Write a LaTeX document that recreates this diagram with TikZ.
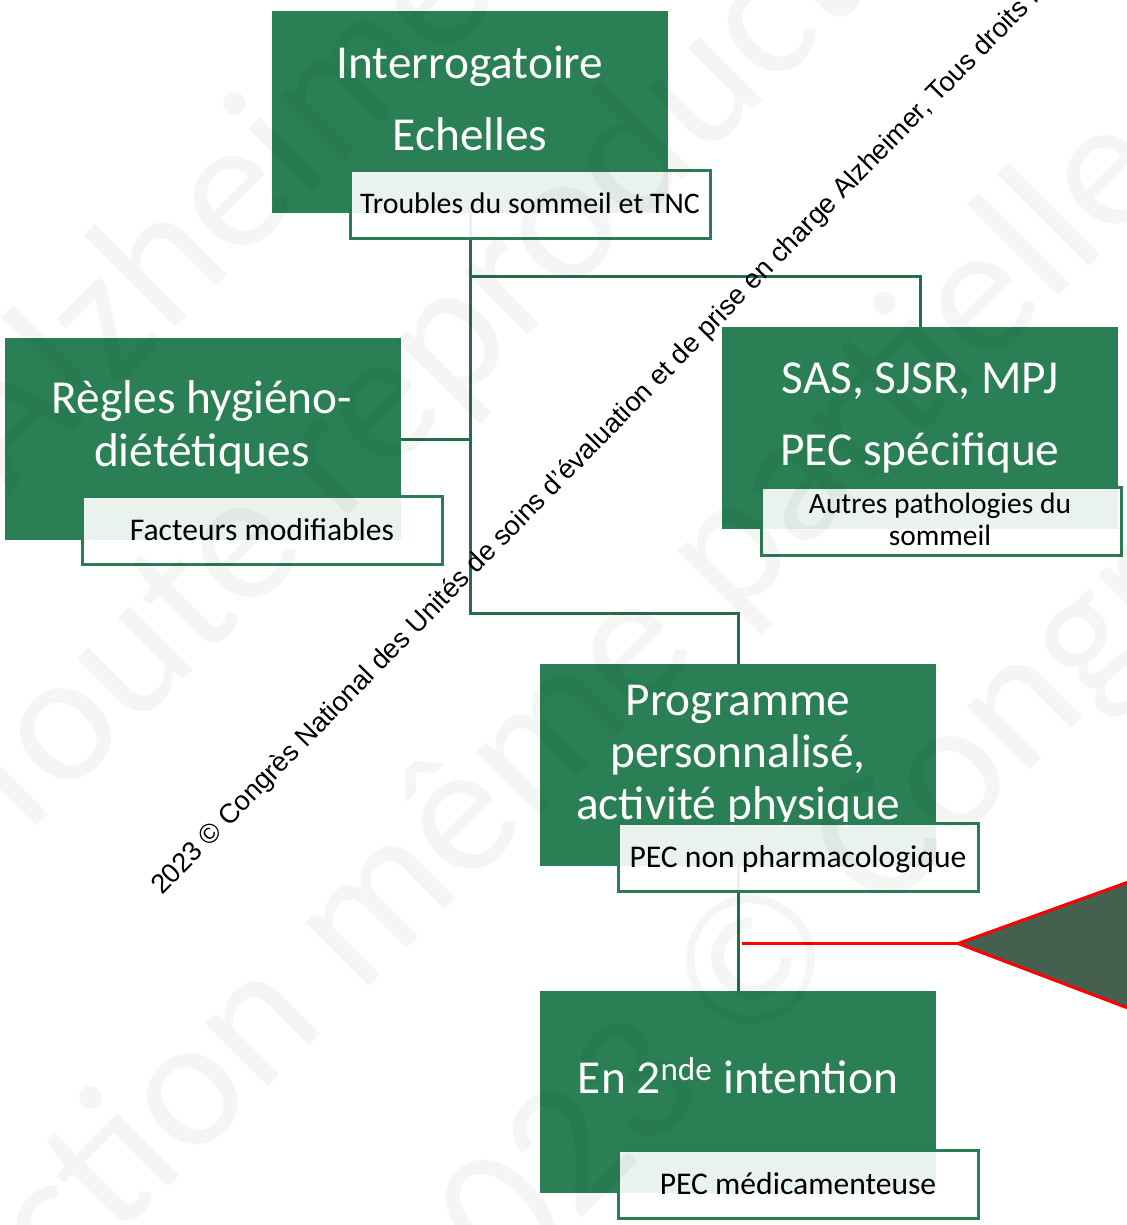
\documentclass[tikz,border=0pt]{standalone}
\usepackage{fontspec}
\setmainfont{Carlito}
\newfontfamily\arialf{Liberation Sans}
\definecolor{boxgreen}{RGB}{42,127,84}
\definecolor{conngreen}{RGB}{36,110,72}
\definecolor{labgreen}{RGB}{44,124,83}
\definecolor{trifill}{RGB}{70,96,80}
\begin{document}
\begin{tikzpicture}[x=0.75pt,y=-0.75pt,
  gbox/.style={fill=boxgreen,draw=none,inner sep=0pt,outer sep=0pt,anchor=north west,minimum width=297pt,minimum height=151.5pt},
  labbox/.style={draw=labgreen,line width=2.25pt,fill=white,fill opacity=0.9,draw opacity=1,inner sep=0pt,outer sep=0pt,anchor=north west,minimum width=270pt,minimum height=51pt},
  btxt/.style={text=white,anchor=base,inner sep=0pt,font=\fontsize{35.5}{40}\selectfont},
  ltxt/.style={text=black,anchor=base,inner sep=0pt,font=\fontsize{23.7}{28}\selectfont},
  ltxts/.style={text=black,anchor=base,inner sep=0pt,font=\fontsize{22.1}{26}\selectfont},
  conn/.style={draw=conngreen,line width=2.25pt},
  redline/.style={draw=red,line width=2.25pt},
  wmk/.style={inner sep=0pt,rotate=45,text=black,text opacity=0.038,font=\fontsize{140}{150}\selectfont},
  copyr/.style={inner sep=0pt,rotate=45.6,anchor=base west,text=black,font=\arialf\fontsize{20.4}{24}\selectfont}]
\useasboundingbox (0,0) rectangle (1127,1225);
\fill[white] (0,0) rectangle (1127,1225);
\begin{scope}
\clip (0,0) rectangle (1127,1225);
% green boxes
\node[gbox] (b1) at (272,11) {};
\node[gbox] (b2) at (5,338) {};
\node[gbox] (b3) at (722,327) {};
\node[gbox] (b4) at (540,664) {};
\node[gbox] (b5) at (540,991) {};
% box texts
\node[btxt] (t1a) at (470,78) {Interrogatoire};
\node[btxt] (t1b) at (470,150) {Echelles};
\node[btxt] (t2a) at (202,413) {Règles hygiéno-};
\node[btxt] (t2b) at (202,466) {diététiques};
\node[btxt] (t3a) at (920,393) {SAS, SJSR, MPJ};
\node[btxt] (t3b) at (920,465) {PEC spécifique};
\node[btxt] (t4a) at (738,715) {Programme};
\node[btxt] (t4b) at (738,767) {personnalisé,};
\node[btxt] (t4c) at (738,819) {activité physique};
\node[btxt] (t5) at (738,1093) {En 2\textsuperscript{nde} intention};
% connectors
\coordinate (k3) at (470,276);
\coordinate (k4) at (470,613);
\draw[conn] (b1.south) -- (k4) -| (b4.north);
\draw[conn] (k3) -| (b3.north);
\draw[conn] (b2.east) -- (b2.east -| k3);
\draw[conn] (b4.south) -- (b5.north);
% labels
\node[labbox] (l1) at (350,170) {};
\node[labbox] (l2) at (82,496) {};
\node[labbox] (l3) at (761,487) {};
\node[labbox] (l4) at (618,823) {};
\node[labbox] (l5) at (618,1150) {};
\node[ltxt,font=\fontsize{22.4}{26}\selectfont] (lt1) at (530,213) {Troubles du sommeil et TNC};
\node[ltxt] (lt2) at (262,540) {Facteurs modifiables};
\node[ltxts] (lt3a) at (940,513) {Autres pathologies du};
\node[ltxts] (lt3b) at (940,545) {sommeil};
\node[ltxt] (lt4) at (798,867) {PEC non pharmacologique};
\node[ltxt] (lt5) at (798,1194) {PEC médicamenteuse};
% red pointer
\coordinate (rs) at (742,943.5);
\coordinate (tip) at (958,943.5);
\coordinate (tu) at (1170,867);
\coordinate (td) at (1170,1024);
\draw[redline] (rs) -- (tip);
\filldraw[fill=trifill,draw=red,line width=2.25pt,line join=miter] (tip) -- (tu) -- (td) -- cycle;
% copyright line
\node[copyr] (cp) at (162,896) {2023 © Congrès National des Unités de soins d’évaluation et de prise en charge Alzheimer, Tous droits réservés};
% faint background watermark
\node[wmk,anchor=base west] (w0) at (8,495) {Alzheimer};
\node[wmk,anchor=base west] (wa) at (10,853) {Toute reproduction};
\node[wmk,anchor=base east] (wb1) at (359,996) {reproduction\kern0.23em};
\node[wmk,anchor=base west] (wb2) at (359,996) {même partielle};
\node[wmk,anchor=base east] (wc1) at (881,919) {2023 ©\kern0.23em};
\node[wmk,anchor=base west] (wc2) at (881,919) {Congrès National};
\end{scope}
\end{tikzpicture}
\end{document}
